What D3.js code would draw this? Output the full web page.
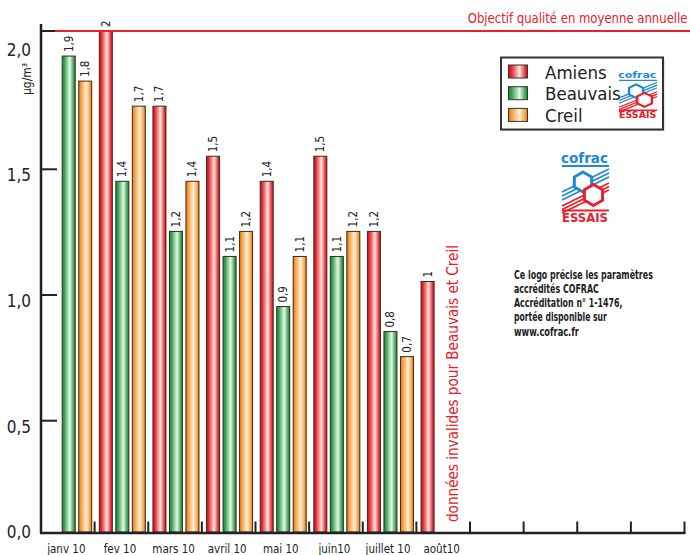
<!DOCTYPE html>
<html>
<head>
<meta charset="utf-8">
<script src="https://cdn.jsdelivr.net/npm/d3@7"></script>
<style>
  body { margin: 0; background: #fff; }
  svg { display: block; }
  text { font-family: "Liberation Sans Narrow", "DejaVu Sans Condensed", "Open Sans", sans-serif; }
</style>
</head>
<body>
<div id="chart"></div>
<script>
// monthly values (µg/m3), null = no data
const months = ['janv 10', 'fev 10', 'mars 10', 'avril 10', 'mai 10', 'juin10', 'juillet 10', 'août10', '', '', '', '']
const series = ['Amiens', 'Beauvais', 'Creil']
const amiens = [null, 2, 1.7, 1.5, 1.4, 1.5, 1.2, 1, null, null, null, null]
const beauvais = [1.9, 1.4, 1.2, 1.1, 0.9, 1.1, 0.8, null, null, null, null, null]
const creil = [1.8, 1.7, 1.4, 1.2, 1.1, 1.2, 0.7, null, null, null, null, null]
const yTicks = [0.5, 1, 1.5, 2]
const objectif = 2
const noteLines = [
  'Ce logo précise les paramètres',
  'accrédités COFRAC',
  'Accréditation n° 1-1476,',
  'portée disponible sur',
  'www.cofrac.fr'
]

const width = 690
const height = 555
const values = {Amiens: amiens, Beauvais: beauvais, Creil: creil}
const colors = {
  Amiens: ['#c4141c', '#e8303a', '#fde6de'],
  Beauvais: ['#1c8436', '#3aa655', '#e8f6e8'],
  Creil: ['#e27a0c', '#f8a040', '#fff1dc']
}
const red = '#e8202a'
const blue = '#1f8ad2'
// printed widths of the note lines (the original uses a condensed face)
const noteWidths = [139, 85, 108.5, 93, 65]

const svg = d3.select('#chart').append('svg')
  .attr('width', width)
  .attr('height', height)

// squeeze a text horizontally so it spans w pixels, anchored at (x, y)
function fitText (sel, x, y, w, anchor) {
  const natural = sel.node().getComputedTextLength()
  const k = Math.min(1, w / natural)
  sel.attr('x', 0).attr('y', 0)
    .attr('text-anchor', anchor)
    .attr('transform', `translate(${x},${y}) scale(${k},1)`)
}

// bar gradients
const defs = svg.append('defs')
series.forEach(s => {
  const c = colors[s]
  const g = defs.append('linearGradient')
    .attr('id', 'grad-' + s)
    .attr('x1', 0).attr('x2', 1).attr('y1', 0).attr('y2', 0)
  ;[[0, c[0]], [0.18, c[1]], [0.58, c[2]], [0.88, c[1]], [1, c[0]]].forEach(d => {
    g.append('stop').attr('offset', d[0]).attr('stop-color', d[1])
  })
})

const x = d3.scaleBand()
  .domain(d3.range(months.length))
  .range([41, 684.5])
const xs = d3.scaleBand()
  .domain(series)
  .range([4.7, 50.7])
  .paddingInner(0.212)
const y = d3.scaleLinear()
  .domain([0, 2])
  .range([532, 31])
// tick positions of the printed axis are slightly shifted from the bar scale
const yAxisScale = d3.scaleLinear()
  .domain([0.5, 1.5])
  .range([420.7, 169.3])

const locale = d3.formatLocale({decimal: ',', thousands: ' ', grouping: [3], currency: ['', '€']})
const fmt = locale.format('.1~f')
const fmtAxis = locale.format('.1f')

// bars
const bars = []
months.forEach((m, i) => {
  series.forEach(s => {
    const v = values[s][i]
    if (v !== null) bars.push({i, s, v})
  })
})

svg.append('g').selectAll('rect')
  .data(bars)
  .enter().append('rect')
  .attr('x', d => x(d.i) + xs(d.s))
  .attr('y', d => y(d.v))
  .attr('width', xs.bandwidth())
  .attr('height', d => y(0) - y(d.v))
  .attr('fill', d => 'url(#grad-' + d.s + ')')
  .attr('stroke', '#3a2a22')
  .attr('stroke-width', 1)

svg.append('g').selectAll('text')
  .data(bars)
  .enter().append('text')
  .attr('transform', d => `translate(${x(d.i) + xs(d.s) + xs.bandwidth() / 2 + 4},${y(d.v) - 4}) rotate(-90)`)
  .attr('font-size', 11.5)
  .attr('fill', '#222')
  .text(d => fmt(d.v))

// objective line
svg.append('line')
  .attr('x1', 55).attr('x2', width)
  .attr('y1', y(objectif)).attr('y2', y(objectif))
  .attr('stroke', red).attr('stroke-width', 2)
svg.append('line')
  .attr('x1', 41).attr('x2', 55)
  .attr('y1', y(objectif)).attr('y2', y(objectif))
  .attr('stroke', '#222').attr('stroke-width', 2)
svg.append('text')
  .attr('font-size', 14.5)
  .attr('fill', red)
  .text('Objectif qualité en moyenne annuelle')
  .call(fitText, 687.5, 22.5, 220, 'end')

// y axis
svg.append('line')
  .attr('x1', 41).attr('x2', 41)
  .attr('y1', 24).attr('y2', 533.5)
  .attr('stroke', '#222').attr('stroke-width', 2.5)
svg.append('g').selectAll('line')
  .data(yTicks.filter(t => t < 2))
  .enter().append('line')
  .attr('x1', 41).attr('x2', 57)
  .attr('y1', d => yAxisScale(d)).attr('y2', d => yAxisScale(d))
  .attr('stroke', '#222').attr('stroke-width', 2)
svg.append('g').selectAll('text')
  .data(yTicks)
  .enter().append('text')
  .attr('x', 31)
  .attr('y', d => yAxisScale(d) + 12)
  .attr('text-anchor', 'end')
  .attr('font-size', 17)
  .attr('fill', '#222')
  .text(d => fmtAxis(d))
svg.append('text')
  .attr('x', 31).attr('y', y(0) + 6)
  .attr('text-anchor', 'end')
  .attr('font-size', 17)
  .attr('fill', '#222')
  .text(fmtAxis(0))
svg.append('text')
  .attr('transform', 'translate(31,79) rotate(-90)')
  .attr('text-anchor', 'middle')
  .attr('font-size', 12)
  .attr('fill', '#222')
  .text('µg/m³')

// x axis
svg.append('line')
  .attr('x1', 40).attr('x2', 685.5)
  .attr('y1', 533).attr('y2', 533)
  .attr('stroke', '#222').attr('stroke-width', 2.5)
svg.append('g').selectAll('line')
  .data(d3.range(1, months.length + 1))
  .enter().append('line')
  .attr('x1', d => x(0) + d * x.step()).attr('x2', d => x(0) + d * x.step())
  .attr('y1', 533).attr('y2', 521.5)
  .attr('stroke', '#222').attr('stroke-width', 2)
svg.append('g').selectAll('text')
  .data(months)
  .enter().append('text')
  .attr('x', (d, i) => x(i) + x.bandwidth() / 2 - 1.5)
  .attr('y', 553)
  .attr('text-anchor', 'middle')
  .attr('font-size', 11.5)
  .attr('fill', '#222')
  .text(d => d)

// invalid data note
svg.append('text')
  .attr('transform', 'translate(457.5,522) rotate(-90)')
  .attr('font-size', 16)
  .attr('fill', red)
  .attr('textLength', 277)
  .attr('lengthAdjust', 'spacingAndGlyphs')
  .text('données invalides pour Beauvais et Creil')

// cofrac logo, local box about 50 x 72
function drawLogo (g) {
  g.append('text')
    .attr('x', 26.5).attr('y', 13)
    .attr('text-anchor', 'middle')
    .attr('font-size', 14)
    .attr('font-weight', 'bold')
    .attr('fill', blue)
    .attr('textLength', 47)
    .attr('lengthAdjust', 'spacingAndGlyphs')
    .text('cofrac')
  g.append('line')
    .attr('x1', 4).attr('x2', 51).attr('y1', 16).attr('y2', 16)
    .attr('stroke', blue).attr('stroke-width', 2)
  for (let k = 0; k < 3; k++) {
    g.append('line')
      .attr('x1', 4).attr('y1', 42 + k * 4)
      .attr('x2', 51).attr('y2', 19 + k * 4)
      .attr('stroke', blue).attr('stroke-width', 1.8)
  }
  for (let k = 0; k < 3; k++) {
    g.append('line')
      .attr('x1', 4).attr('y1', 56 + k * 3.5)
      .attr('x2', 51).attr('y2', 33 + k * 3.5)
      .attr('stroke', red).attr('stroke-width', 1.8)
  }
  g.append('line')
    .attr('x1', 4).attr('x2', 51).attr('y1', 60.5).attr('y2', 60.5)
    .attr('stroke', red).attr('stroke-width', 2)
  const hex = (cx, cy, r) => d3.range(6).map(k => {
    const a = Math.PI / 3 * k - Math.PI / 2
    return [cx + r * Math.cos(a), cy + r * Math.sin(a)]
  })
  g.append('polygon')
    .attr('points', hex(25, 32, 10).join(' '))
    .attr('fill', '#fff').attr('stroke', blue).attr('stroke-width', 3)
  g.append('polygon')
    .attr('points', hex(35.5, 45, 10.5).join(' '))
    .attr('fill', '#fff').attr('stroke', red).attr('stroke-width', 3)
  g.append('text')
    .attr('x', 27).attr('y', 72)
    .attr('text-anchor', 'middle')
    .attr('font-size', 12)
    .attr('font-weight', 'bold')
    .attr('fill', red)
    .attr('textLength', 46)
    .attr('lengthAdjust', 'spacingAndGlyphs')
    .text('ESSAIS')
}

// legend
const legend = svg.append('g')
legend.append('rect')
  .attr('x', 502.5).attr('y', 59)
  .attr('width', 162).attr('height', 72)
  .attr('fill', '#ccc')
legend.append('rect')
  .attr('x', 501).attr('y', 57.5)
  .attr('width', 162).attr('height', 72)
  .attr('fill', '#fff').attr('stroke', '#333').attr('stroke-width', 2)
series.forEach((s, i) => {
  legend.append('rect')
    .attr('x', 508.5).attr('y', 65 + i * 21.7)
    .attr('width', 19).attr('height', 13)
    .attr('fill', 'url(#grad-' + s + ')')
    .attr('stroke', '#333').attr('stroke-width', 1)
  legend.append('text')
    .attr('x', 545).attr('y', 78.5 + i * 21.7)
    .attr('font-size', 18.5)
    .attr('fill', '#222')
    .text(s)
})
drawLogo(legend.append('g').attr('transform', 'translate(615.8,69.7) scale(0.81,0.67)'))
drawLogo(svg.append('g').attr('transform', 'translate(558,150)'))

// accreditation note
const note = svg.append('g')
noteLines.forEach((line, i) => {
  note.append('text')
    .attr('font-size', 11.5)
    .attr('font-weight', 'bold')
    .attr('fill', '#222')
    .text(line)
    .call(fitText, 514, 278.5 + i * 14.3, noteWidths[i], 'start')
})
</script>
</body>
</html>
